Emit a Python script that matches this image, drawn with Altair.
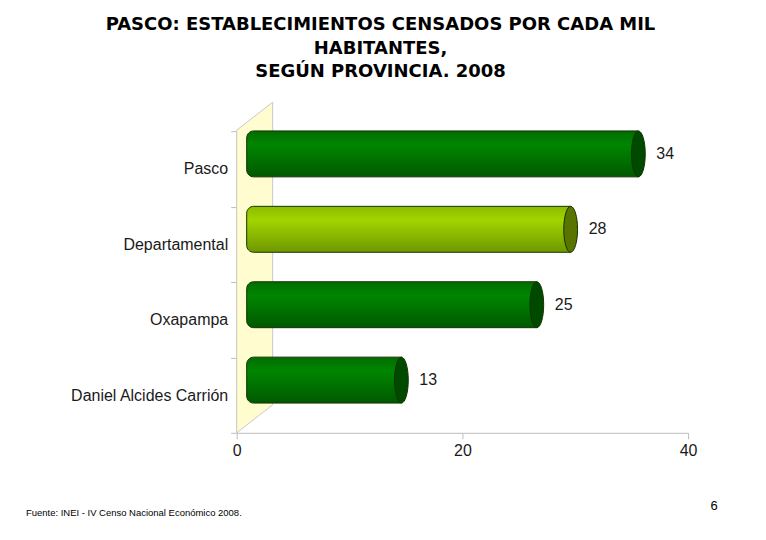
import altair as alt
import pandas as pd

categories = ["Pasco", "Departamental", "Oxapampa", "Daniel Alcides Carrión"]
values = [34, 28, 25, 13]
groups = ["prov", "dep", "prov", "prov"]
x_ticks = [0, 20, 40]

title_lines = ["PASCO: ESTABLECIMIENTOS CENSADOS POR CADA MIL", "HABITANTES,", "SEGÚN PROVINCIA. 2008"]
source_note = "Fuente: INEI - IV Censo Nacional Económico 2008."
page_no = "6"

df = pd.DataFrame({"cat": categories, "val": values, "grp": groups})

W, H = 452, 302
FONT = "Liberation Sans"

yenc = alt.Y("cat:N", sort=categories, title=None,
             scale=alt.Scale(paddingInner=0, paddingOuter=0),
             axis=alt.Axis(tickBand="extent", domainColor="#bdbdbd", tickColor="#bdbdbd",
                           tickSize=6, labelPadding=3, labelFont=FONT, labelFontSize=16,
                           labelColor="#1a1a1a", domainWidth=1))
xenc = alt.X("val:Q", title=None,
             scale=alt.Scale(domain=[0, 40], nice=False),
             axis=alt.Axis(values=x_ticks, grid=False, domainColor="#bdbdbd", tickColor="#bdbdbd",
                           tickSize=6, labelPadding=4, labelFont=FONT, labelFontSize=16,
                           labelColor="#1a1a1a", labelFlush=False))

base = alt.Chart(df)

# side wall (decorative parallelogram drawn as a custom symbol)
wall_path = "M-0.1088,-0.831 L0.1088,-1 L0.1088,0.831 L-0.1088,1 Z"
wall = alt.Chart(pd.DataFrame({"w": [0]})).mark_point(
    shape=wall_path, size=109561, filled=True, fill="#fffccf", stroke="#c8c8c8",
    strokeWidth=1, opacity=1
).encode(x=alt.value(18), y=alt.value(136.5))

def grad(c0, c1, c2):
    return alt.LinearGradient(gradient="linear", x1=0, y1=0, x2=0, y2=1,
                              stops=[alt.GradientStop(color=c0, offset=0),
                                     alt.GradientStop(color=c1, offset=0.3),
                                     alt.GradientStop(color=c2, offset=1)])

bar_kw = dict(size=46, yOffset=-15, xOffset=18, x2Offset=10, stroke="#143300", strokeWidth=1,
              cornerRadiusTopLeft=7, cornerRadiusBottomLeft=7)

bars_prov = base.transform_filter(alt.datum.grp == "prov").mark_bar(
    color=grad("#006c00", "#008600", "#005800"), **bar_kw
).encode(x=xenc, x2=alt.datum(0), y=yenc)

bars_dep = base.transform_filter(alt.datum.grp == "dep").mark_bar(
    color=grad("#8cbc00", "#a2d400", "#6f9800"), **bar_kw
).encode(x=xenc, x2=alt.datum(0), y=yenc)

ellipse = "M0,-1 A0.3,1 0 1,1 0,1 A0.3,1 0 1,1 0,-1 Z"
caps = base.mark_point(shape=ellipse, size=2116, filled=True, opacity=1,
                       xOffset=18, yOffset=-15, stroke="#143300", strokeWidth=1).encode(
    x=xenc, y=yenc,
    fill=alt.Fill("grp:N", scale=alt.Scale(domain=["prov", "dep"], range=["#004a00", "#5a7400"]),
                  legend=None))

labels = base.mark_text(align="left", baseline="middle", dx=36, dy=-15, font=FONT,
                        fontSize=16, color="#1a1a1a").encode(
    x=xenc, y=yenc, text=alt.Text("val:Q"))

title = alt.Chart(pd.DataFrame({"t": [0]})).mark_text(
    align="center", baseline="alphabetic", font="DejaVu Sans", fontSize=18, fontWeight="bold",
    lineHeight=23.5, color="#000000"
).encode(x=alt.value(144), y=alt.value(-101), text=alt.value(title_lines))

footer = alt.Chart(pd.DataFrame({"t": [0]})).mark_text(
    align="left", baseline="alphabetic", font=FONT, fontSize=9.5, color="#000000"
).encode(x=alt.value(-211), y=alt.value(385), text=alt.value(source_note))

page = alt.Chart(pd.DataFrame({"t": [0]})).mark_text(
    align="center", baseline="alphabetic", font=FONT, fontSize=13, color="#000000"
).encode(x=alt.value(478), y=alt.value(379), text=alt.value(page_no))

chart = alt.layer(wall, bars_prov, bars_dep, caps, labels, title, footer, page).properties(
    width=W, height=H,
    background="white",
    autosize=alt.AutoSizeParams(type="none"),
    padding={"left": 229, "top": 123, "right": 70, "bottom": 100},
).configure_view(strokeWidth=0)

chart.save("out.html", embed_options={"renderer": "svg", "actions": False})
